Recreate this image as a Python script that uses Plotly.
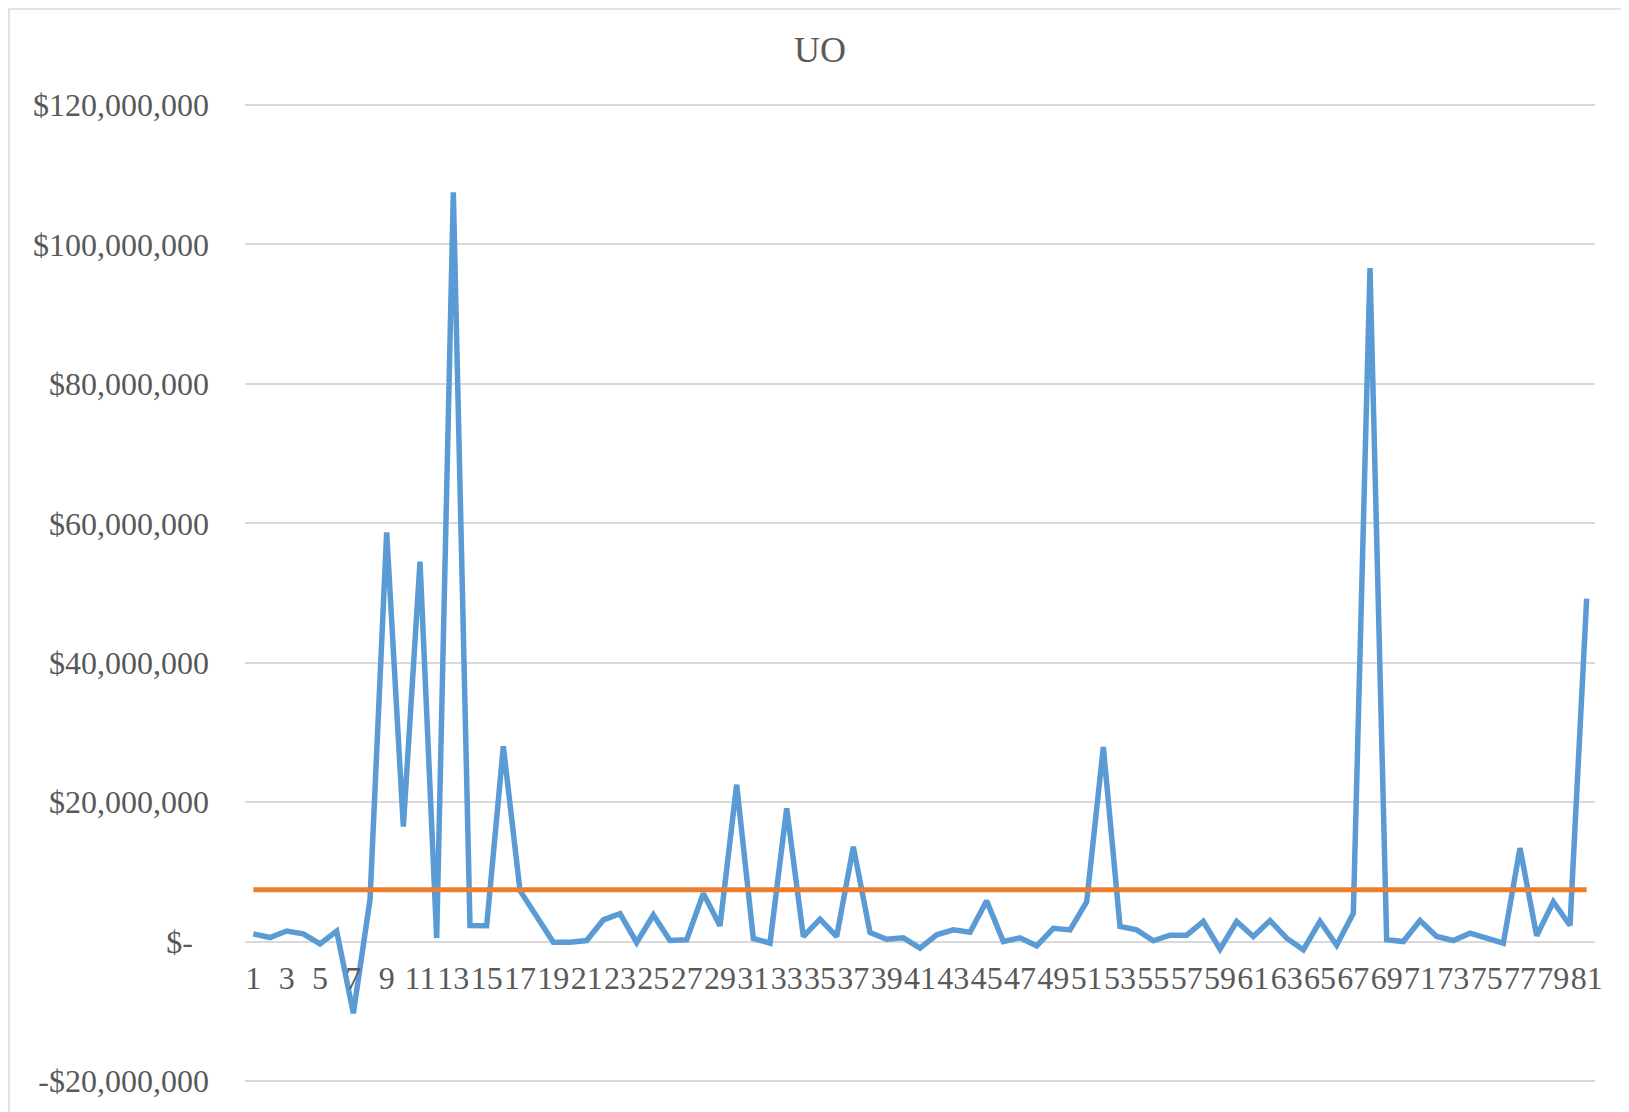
import plotly.graph_objects as go

# periods 1..81
periods = list(range(1, 82))

uo_values = [
    1_100_000, 570_000, 1_500_000, 1_100_000, -330_000, 1_500_000, -10_300_000, 6_000_000,
    58_700_000, 16_500_000, 54_500_000, 500_000, 107_500_000, 2_300_000, 2_250_000, 28_000_000,
    7_300_000, 3_600_000, -100_000, -100_000, 140_000, 3_100_000, 4_000_000, -140_000,
    3_800_000, 140_000, 240_000, 6_900_000, 2_250_000, 22_500_000, 430_000, -240_000,
    19_100_000, 720_000, 3_200_000, 720_000, 13_600_000, 1_300_000, 330_000, 530_000,
    -960_000, 960_000, 1_670_000, 1_340_000, 5_830_000, 0, 530_000, -620_000,
    1_900_000, 1_670_000, 5_700_000, 27_900_000, 2_150_000, 1_670_000, 100_000, 900_000,
    900_000, 2_870_000, -1_100_000, 2_870_000, 720_000, 3_000_000, 480_000, -1_200_000,
    2_900_000, -530_000, 4_060_000, 96_600_000, 240_000, 0, 3_000_000, 720_000,
    140_000, 1_200_000, 480_000, -240_000, 13_400_000, 810_000, 5_700_000, 2_300_000,
    49_200_000,
]

# horizontal average line
average_value = 7_410_000

y_tickvals = [-20_000_000, 0, 20_000_000, 40_000_000, 60_000_000, 80_000_000, 100_000_000, 120_000_000]
y_ticktext = ["-$20,000,000", "$-\u00a0\u00a0", "$20,000,000", "$40,000,000", "$60,000,000",
              "$80,000,000", "$100,000,000", "$120,000,000"]
x_tickvals = periods[::2]
x_ticktext = [str(p) for p in x_tickvals]

FONT = "Liberation Serif, Times New Roman, serif"
TEXT = "#595959"
GRID = "#d9d9d9"

Y_MIN, Y_MAX = -20_300_000, 120_300_000  # a hair past the end ticks so their gridlines show

W, H = 1621, 1104
ML, MR, MT, MB = 237, 34, 95, 29
PW, PH = W - ML - MR, H - MT - MB

fig = go.Figure()

fig.add_trace(
    go.Scatter(
        x=periods,
        y=uo_values,
        mode="lines",
        name="UO",
        line=dict(color="#5b9bd5", width=5.5),
    )
)

fig.add_trace(
    go.Scatter(
        x=[periods[0], periods[-1]],
        y=[average_value, average_value],
        mode="lines",
        name="Average",
        line=dict(color="#ed7d31", width=5),
    )
)

fig.update_layout(
    width=W,
    height=H,
    margin=dict(l=ML, r=MR, t=MT, b=MB),
    paper_bgcolor="white",
    plot_bgcolor="white",
    showlegend=False,
    font=dict(family=FONT, color=TEXT, size=32),
    title=dict(
        text="UO",
        x=812 / W,
        xanchor="center",
        y=1 - 41 / H,
        yanchor="middle",
        font=dict(family=FONT, color=TEXT, size=36),
    ),
    shapes=[
        dict(
            type="rect",
            xref="paper",
            yref="paper",
            x0=(1 - ML) / PW,
            x1=(W + 5 - ML) / PW,
            y0=(MT + PH - H - 10) / PH,
            y1=(MT + PH - 1) / PH,
            line=dict(color=GRID, width=1.5),
            layer="below",
        )
    ],
)

fig.update_yaxes(
    range=[Y_MIN, Y_MAX],
    tickvals=y_tickvals,
    ticktext=y_ticktext,
    showgrid=True,
    gridcolor=GRID,
    gridwidth=1.5,
    zeroline=False,
    showline=False,
    ticklabelstandoff=35,
    tickfont=dict(family=FONT, color=TEXT, size=32),
)

fig.update_xaxes(
    range=[0.5, 81.5],
    tickvals=x_tickvals,
    ticktext=x_ticktext,
    tickangle=0,
    showgrid=False,
    zeroline=False,
    showline=False,
    anchor="free",
    position=(0 - Y_MIN) / (Y_MAX - Y_MIN),
    ticklabelstandoff=14,
    tickfont=dict(family=FONT, color=TEXT, size=32),
)

fig.write_html("out.html")
